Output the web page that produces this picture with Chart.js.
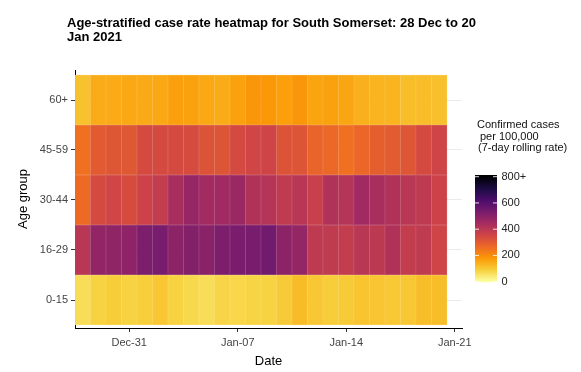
<!DOCTYPE html>
<html>
<head>
<meta charset="utf-8">
<script src="https://cdn.jsdelivr.net/npm/chart.js@4.4.0/dist/chart.umd.min.js"></script>
<style>
  html, body { margin: 0; padding: 0; background: #fff; }
  #wrap { width: 581px; height: 372px; }
</style>
</head>
<body>
<div id="wrap"><canvas id="heat" width="581" height="372"></canvas></div>
<script>
// days shown, 28 Dec 2020 .. 20 Jan 2021
const dates = [
  "Dec-28", "Dec-29", "Dec-30", "Dec-31", "Jan-01", "Jan-02", "Jan-03", "Jan-04",
  "Jan-05", "Jan-06", "Jan-07", "Jan-08", "Jan-09", "Jan-10", "Jan-11", "Jan-12",
  "Jan-13", "Jan-14", "Jan-15", "Jan-16", "Jan-17", "Jan-18", "Jan-19", "Jan-20"
];
const ageGroups = ["0-15", "16-29", "30-44", "45-59", "60+"];

// 7-day rolling case rate per 100,000
const rates0to15 = [64, 84, 92, 84, 90, 104, 85, 74, 64, 80, 76, 82, 84, 97, 122, 104, 94, 97, 108, 106, 100, 102, 118, 118];
const rates16to29 = [404, 482, 486, 490, 525, 533, 494, 513, 498, 525, 529, 533, 545, 494, 478, 393, 389, 383, 404, 395, 421, 383, 389, 356];
const rates30to44 = [265, 340, 352, 337, 362, 383, 438, 474, 450, 454, 466, 421, 412, 389, 404, 371, 421, 412, 454, 438, 421, 404, 394, 362];
const rates45to59 = [254, 303, 310, 308, 342, 340, 342, 337, 318, 315, 342, 354, 355, 318, 315, 279, 270, 254, 274, 291, 298, 313, 340, 356];
const rates60plus = [112, 148, 150, 155, 152, 155, 168, 165, 155, 148, 165, 185, 182, 170, 185, 162, 165, 158, 142, 135, 135, 118, 120, 115];

const xTickPos = [3, 10, 17, 24];
const xTickLabels = ["Dec-31", "Jan-07", "Jan-14", "Jan-21"];
const legendTicks = [0, 200, 400, 600, 800];
const legendTickLabels = ["0", "200", "400", "600", "800+"];
const rateCap = 800;

const infernoStops = ["#000004", "#1B0C42", "#4B0C6B", "#781C6D", "#A52C60", "#CF4446", "#ED6925", "#FB9A06", "#F7D03C", "#FCFFA4"];

const fontFamily = "'Liberation Sans', Arial, sans-serif";
Chart.defaults.font.family = fontFamily;

function hexToRgb(h) {
  const n = parseInt(h.slice(1), 16);
  return [(n >> 16) & 255, (n >> 8) & 255, n & 255];
}
const stopsRgb = infernoStops.map(hexToRgb);

// reversed inferno: 0 -> pale yellow, 800+ -> black
function rateColour(v, lighten) {
  const t = 1 - Math.min(Math.max(v, 0), rateCap) / rateCap;
  const p = t * (stopsRgb.length - 1);
  const i = Math.min(Math.floor(p), stopsRgb.length - 2);
  const f = p - i;
  let c = stopsRgb[i].map((a, k) => a + (stopsRgb[i + 1][k] - a) * f);
  if (lighten) c = c.map(a => a + (255 - a) * lighten);
  return "rgb(" + c.map(Math.round).join(",") + ")";
}

const rowsByAge = [rates0to15, rates16to29, rates30to44, rates45to59, rates60plus];

const datasets = ageGroups.map((g, row) => ({
  label: g,
  data: rowsByAge[row].map((v, d) => ({ x: d, y: [row, row + 1] })),
  backgroundColor: rowsByAge[row].map(v => rateColour(v)),
  borderColor: rowsByAge[row].map(v => rateColour(v, 0.22)),
  borderWidth: 0.5,
  borderSkipped: false,
  grouped: false,
  barPercentage: 1,
  categoryPercentage: 1
}));

// title + colourbar legend
const extras = {
  id: "extras",
  afterDraw(chart) {
    const ctx = chart.ctx;
    ctx.save();
    ctx.fillStyle = "#000";
    ctx.font = "bold 13px " + fontFamily;
    ctx.textBaseline = "alphabetic";
    ctx.textAlign = "left";
    ctx.fillText("Age-stratified case rate heatmap for South Somerset: 28 Dec to 20", 67, 26.5, 423);
    ctx.fillText("Jan 2021", 67, 40.5);

    ctx.font = "11px " + fontFamily;
    ctx.fillStyle = "#111";
    ctx.textBaseline = "middle";
    ctx.fillText("Confirmed cases", 477, 125);
    ctx.fillText("per 100,000", 480, 136.7);
    ctx.fillText("(7-day rolling rate)", 478, 148.3);

    const barL = 475, barR = 497, barTop = 175, barBot = 281.7, span = 105;
    for (let py = barTop; py < barBot; py += 1) {
      const v = (barBot - py - 0.5) / span * rateCap;
      ctx.fillStyle = rateColour(v);
      ctx.fillRect(barL, py, barR - barL, 1.2);
    }
    ctx.strokeStyle = "rgba(255,255,255,0.85)";
    ctx.lineWidth = 1;
    ctx.fillStyle = "#222";
    legendTicks.forEach((v, i) => {
      const y = barBot - v / rateCap * span;
      ctx.beginPath();
      ctx.moveTo(barL, y); ctx.lineTo(barL + 4, y);
      ctx.moveTo(barR - 4, y); ctx.lineTo(barR, y);
      ctx.stroke();
      ctx.fillText(legendTickLabels[i], 501.5, y);
    });
    ctx.restore();
  }
};

new Chart(document.getElementById("heat"), {
  type: "bar",
  data: { datasets },
  plugins: [extras],
  options: {
    responsive: false,
    animation: false,
    layout: { padding: { left: 0, right: 119, top: 70, bottom: 0 } },
    plugins: { legend: { display: false }, tooltip: { enabled: false } },
    scales: {
      x: {
        type: "linear",
        offset: false,
        min: -0.5,
        max: 24.47,
        afterBuildTicks: s => { s.ticks = xTickPos.map(v => ({ value: v })); },
        afterFit: s => { s.height = 44; },
        ticks: {
          callback: (v, i) => xTickLabels[i],
          color: "#444",
          font: { size: 11 },
          padding: 4,
          maxRotation: 0,
          autoSkip: false
        },
        grid: { offset: false, drawOnChartArea: false, tickLength: 4, tickColor: "#333" },
        border: { color: "#000", width: 1 },
        title: { display: true, text: "Date", color: "#000", font: { size: 13 }, padding: { top: 0, bottom: 3 } }
      },
      y: {
        type: "linear",
        min: -0.06,
        max: 5.1,
        afterBuildTicks: s => { s.ticks = ageGroups.map((g, i) => ({ value: i + 0.5 })); },
        afterFit: s => { s.width = 75; },
        ticks: {
          callback: (v, i) => ageGroups[i],
          color: "#444",
          font: { size: 11 },
          padding: 3,
          autoSkip: false
        },
        grid: { color: "#ebebeb", tickColor: "#333", tickLength: 4 },
        border: { color: "#000", width: 1 },
        title: { display: true, text: "Age group", color: "#000", font: { size: 13 }, padding: { top: 16, bottom: 0 } }
      }
    }
  }
});
</script>
</body>
</html>
